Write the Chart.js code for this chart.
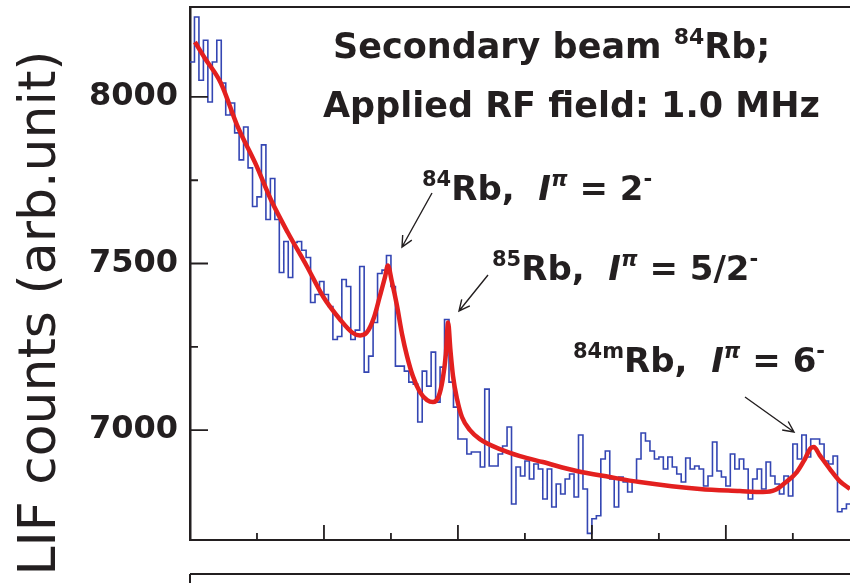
<!DOCTYPE html>
<html>
<head>
<meta charset="utf-8">
<title>LIF counts - secondary beam 84Rb</title>
<script src="https://cdn.jsdelivr.net/npm/chart.js@4.4.0/dist/chart.umd.min.js"></script>
<style>
  html, body { margin: 0; padding: 0; background: #fff; }
  #lifChart { display: block; }
</style>
</head>
<body>
<canvas id="lifChart" width="850" height="583"></canvas>
<script>
// LIF spectrum of the 84Rb secondary beam with a 1.0 MHz RF field applied.
// Histogram = measured counts per channel, red line = fitted spectrum.

const HIST_COUNTS = [
  8105, 8240, 8050, 8170, 7985, 8105, 8170, 8042, 7946, 7982,
  7892, 7811, 7910, 7787, 7671, 7700, 7856, 7632, 7755, 7632,
  7473, 7566, 7458, 7563, 7566, 7540, 7518, 7383, 7407, 7446,
  7407, 7371, 7272, 7281, 7452, 7431, 7272, 7300, 7491, 7174,
  7222, 7323, 7470, 7480, 7524, 7431, 7192, 7192, 7177, 7144,
  7138, 7024, 7177, 7132, 7234, 7084, 7189, 7332, 7144, 7069,
  6973, 6973, 6928, 6934, 6934, 6889, 7123, 6892, 6892, 6928,
  6952, 7009, 6778, 6889, 6862, 6907, 6853, 6898, 6883, 6793,
  6883, 6769, 6838, 6808, 6853, 6868, 6799, 6985, 6823, 6690,
  6734, 6743, 6913, 6937, 6853, 6769, 6859, 6844, 6814, 6844,
  6913, 6991, 6967, 6937, 6913, 6919, 6883, 6919, 6889, 6868,
  6844, 6916, 6883, 6892, 6883, 6832, 6862, 6964, 6877, 6859,
  6832, 6928, 6883, 6913, 6883, 6793, 6853, 6883, 6823, 6904,
  6862, 6838, 6808, 6862, 6802, 6958, 6913, 6985, 6919, 6973,
  6973, 6958, 6907, 6898, 6922, 6755, 6764, 6778
];

const FIT_CHANNEL = [
  1.1, 3.3, 6.9, 10.7, 14.6, 18.1, 21.9, 26.2, 29.8, 33.6,
  36.3, 38.1, 39.6, 41.2, 42.5, 43.7, 44.3, 45.2, 46.3, 47.5,
  48.6, 49.9, 51.5, 53.1, 54.4, 55.7, 56.6, 57.3, 57.8, 58.3,
  58.9, 59.8, 60.9, 62.7, 64.9, 69.4, 73.9, 79.0, 86.6, 94.0,
  100.7, 114.2, 123.1, 128.3, 131.0, 133.2, 135.9, 137.7, 139.0, 139.7,
  141.0, 143.3, 145.5, 147.8
];
const FIT_COUNTS = [
  8165, 8117, 8042, 7910, 7802, 7692, 7593, 7491, 7401, 7332,
  7293, 7284, 7293, 7338, 7401, 7461, 7494, 7446, 7377, 7287,
  7222, 7162, 7114, 7090, 7084, 7102, 7153, 7228, 7323, 7243,
  7162, 7093, 7039, 7000, 6973, 6943, 6922, 6904, 6877, 6859,
  6844, 6823, 6817, 6814, 6820, 6841, 6874, 6913, 6946, 6949,
  6925, 6883, 6847, 6823
];

const Y_LABELS = [7000, 7500, 8000];
const Y_MIN = 6670;
const Y_MAX = 8270;
const X_MAX = 147.8;

const INK = '#231f20';
const FONT = '"DejaVu Sans", sans-serif';

const histPoints = HIST_COUNTS.map((y, i) => ({ x: i, y }));
histPoints.push({ x: HIST_COUNTS.length, y: HIST_COUNTS[HIST_COUNTS.length - 1] });
const fitPoints = FIT_CHANNEL.map((x, i) => ({ x, y: FIT_COUNTS[i] }));

// text pieces: sup = superscript, it = italic
const NOTES = [
  { x: 333, y: 58, size: 35, parts: [{ t: 'Secondary beam ' }, { t: '84', sup: true }, { t: 'Rb;' }] },
  { x: 323, y: 117, size: 35, parts: [{ t: 'Applied RF field: 1.0 MHz' }] },
  { x: 422, y: 200, size: 34, parts: [{ t: '84', sup: true }, { t: 'Rb,  ' }, { t: 'I', it: true }, { t: 'π', sup: true, it: true }, { t: ' = 2' }, { t: '-', sup: true }] },
  { x: 492, y: 280, size: 34, parts: [{ t: '85', sup: true }, { t: 'Rb,  ' }, { t: 'I', it: true }, { t: 'π', sup: true, it: true }, { t: ' = 5/2' }, { t: '-', sup: true }] },
  { x: 573, y: 372, size: 34, parts: [{ t: '84m', sup: true }, { t: 'Rb,  ' }, { t: 'I', it: true }, { t: 'π', sup: true, it: true }, { t: ' = 6' }, { t: '-', sup: true }] },
];
const ARROWS = [
  [432, 193, 402, 247],
  [488, 275, 459, 311],
  [745, 397, 794, 432],
];

function drawRich(ctx, note) {
  let x = note.x;
  ctx.textBaseline = 'alphabetic';
  ctx.textAlign = 'left';
  note.parts.forEach((p) => {
    const size = p.sup ? Math.round(note.size * 0.62) : note.size;
    ctx.font = `${p.it ? 'italic ' : ''}bold ${size}px ${FONT}`;
    const y = p.sup ? note.y - Math.round(note.size * 0.4) : note.y;
    ctx.fillText(p.t, x, y);
    x += ctx.measureText(p.t).width;
  });
}

function drawArrow(ctx, x0, y0, x1, y1) {
  const a = Math.atan2(y1 - y0, x1 - x0);
  const head = 12;
  ctx.beginPath();
  ctx.moveTo(x0, y0);
  ctx.lineTo(x1, y1);
  ctx.moveTo(x1 - head * Math.cos(a - 0.45), y1 - head * Math.sin(a - 0.45));
  ctx.lineTo(x1, y1);
  ctx.lineTo(x1 - head * Math.cos(a + 0.45), y1 - head * Math.sin(a + 0.45));
  ctx.stroke();
}

const decorations = {
  id: 'decorations',
  afterDraw(chart) {
    const { ctx, chartArea, scales } = chart;
    const xs = scales.x;
    const ys = scales.y;
    ctx.save();
    ctx.strokeStyle = INK;
    ctx.fillStyle = INK;

    // top frame line and the top edge of the panel below
    ctx.lineWidth = 2;
    ctx.beginPath();
    ctx.moveTo(chartArea.left, chartArea.top);
    ctx.lineTo(chartArea.right, chartArea.top);
    ctx.moveTo(chartArea.left, chartArea.bottom + 34);
    ctx.lineTo(chartArea.right, chartArea.bottom + 34);
    ctx.moveTo(chartArea.left, chartArea.bottom + 34);
    ctx.lineTo(chartArea.left, chart.height);
    ctx.stroke();

    // inward tick marks
    ctx.lineWidth = 1.8;
    ctx.beginPath();
    ys.ticks.forEach((t) => {
      if (t.value % 250 !== 0) return;
      const py = ys.getPixelForValue(t.value);
      const len = t.value % 500 === 0 ? 18 : 8;
      ctx.moveTo(chartArea.left, py);
      ctx.lineTo(chartArea.left + len, py);
    });
    xs.ticks.forEach((t) => {
      if (t.value <= 0 || t.value % 15 !== 0) return;
      const px = xs.getPixelForValue(t.value);
      const len = t.value % 30 === 0 ? 15 : 7;
      ctx.moveTo(px, chartArea.bottom);
      ctx.lineTo(px, chartArea.bottom - len);
    });
    ctx.stroke();

    // y axis title
    ctx.save();
    ctx.translate(55, 313);
    ctx.rotate(-Math.PI / 2);
    ctx.font = `52px ${FONT}`;
    ctx.textAlign = 'center';
    ctx.textBaseline = 'alphabetic';
    ctx.fillText('LIF counts (arb.unit)', 0, 0);
    ctx.restore();

    NOTES.forEach((n) => drawRich(ctx, n));

    ctx.lineWidth = 1.4;
    ARROWS.forEach((a) => drawArrow(ctx, ...a));
    ctx.restore();
  },
};

new Chart(document.getElementById('lifChart'), {
  type: 'line',
  data: {
    datasets: [
      {
        label: 'Fit',
        data: fitPoints,
        borderColor: '#e3201f',
        borderWidth: 4.5,
        pointRadius: 0,
        cubicInterpolationMode: 'monotone',
        order: 0,
      },
      {
        label: 'LIF counts',
        data: histPoints,
        borderColor: '#3446b3',
        borderWidth: 1.6,
        pointRadius: 0,
        stepped: 'before',
        order: 1,
      },
    ],
  },
  options: {
    responsive: false,
    animation: false,
    layout: { padding: { top: 7, left: 0, right: 0, bottom: 0 } },
    plugins: {
      legend: { display: false },
      tooltip: { enabled: false },
    },
    scales: {
      x: {
        type: 'linear',
        min: 0,
        max: X_MAX,
        ticks: { display: false, stepSize: 15 },
        grid: { display: false, drawTicks: false },
        border: { display: true, color: INK, width: 2 },
        afterFit(scale) {
          scale.height = 43;
          scale.paddingLeft = 0;
          scale.paddingRight = 0;
        },
      },
      y: {
        min: Y_MIN,
        max: Y_MAX,
        ticks: {
          stepSize: 250,
          padding: 12,
          color: INK,
          font: { family: FONT, size: 32, weight: 'bold' },
          callback: (v) => (Y_LABELS.includes(v) ? String(v) : ''),
        },
        grid: { display: false, drawTicks: false },
        border: { display: true, color: INK, width: 2.5 },
        afterFit(scale) {
          scale.width = 190;
          scale.paddingTop = 0;
          scale.paddingBottom = 0;
        },
      },
    },
  },
  plugins: [decorations],
});
</script>
</body>
</html>
